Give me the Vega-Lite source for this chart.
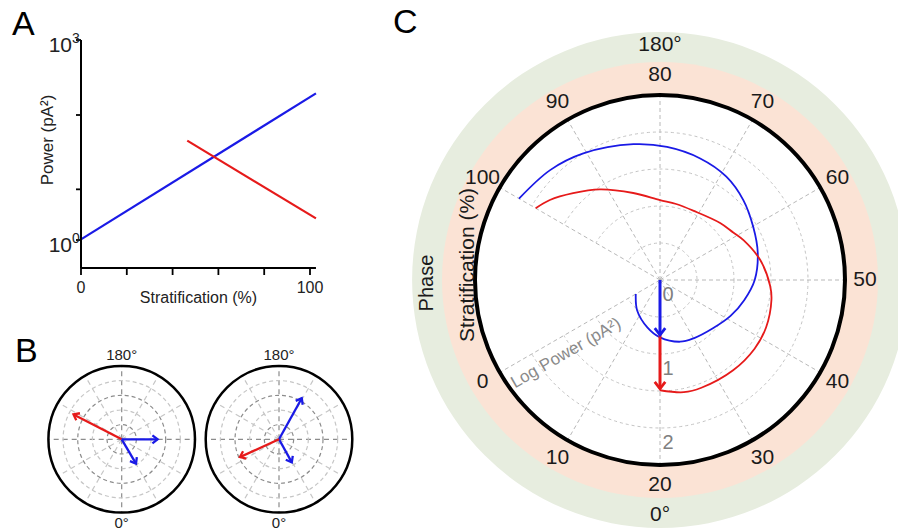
{
"$schema":"https://vega.github.io/schema/vega-lite/v6.json",
"width":898,"height":531,
"autosize":{"type":"fit","contains":"padding"},
"padding":0,
"background":"white",
"config":{"font":"Liberation Sans","view":{"stroke":null},"axis":{"grid":false}},
"datasets":{
 "powerA":[{"series":"blue","strat":0,"power":1.02},{"series":"blue","strat":102.6,"power":158.5},{"series":"red","strat":46.4,"power":30.9},{"series":"red","strat":102.6,"power":2.11}],
 "axisA":[{"xa":0,"xb":0,"pa":0.38,"pb":1000},{"xa":0,"xb":102.6,"pa":0.38,"pb":0.38}],
 "xTicksA":[{"s":0},{"s":20},{"s":40},{"s":60},{"s":80},{"s":100}],
 "yTicksA":[{"p":1,"exp":"0"},{"p":5.754,"exp":""},{"p":74.99,"exp":""},{"p":1000,"exp":"3"}],
 "spokesB":[{"angle":0,"tone":"dark"},{"angle":30,"tone":"light"},{"angle":60,"tone":"light"},{"angle":90,"tone":"dark"},{"angle":120,"tone":"light"},{"angle":150,"tone":"light"},{"angle":180,"tone":"dark"},{"angle":210,"tone":"light"},{"angle":240,"tone":"light"},{"angle":270,"tone":"dark"},{"angle":300,"tone":"light"},{"angle":330,"tone":"light"}],
 "circlesB":[{"r":0.2,"tone":"dark"},{"r":0.4,"tone":"light"},{"r":0.6,"tone":"dark"},{"r":0.8,"tone":"light"}],
 "arrows":[
  {"panel":"B1","series":"red","phase":242.7,"r0":0,"r1":0.74},
  {"panel":"B1","series":"blue","phase":90,"r0":0,"r1":0.49},
  {"panel":"B1","series":"blue","phase":30.5,"r0":0,"r1":0.385},
  {"panel":"B2","series":"blue","phase":151,"r0":0,"r1":0.64},
  {"panel":"B2","series":"blue","phase":29,"r0":0,"r1":0.36},
  {"panel":"B2","series":"red","phase":294.5,"r0":0,"r1":0.585},
  {"panel":"C","series":"blue","phase":0,"r0":0,"r1":0.743},
  {"panel":"C","series":"red","phase":0,"r0":0.743,"r1":1.47}
 ],
 "stratTicks":[{"s":0},{"s":10},{"s":20},{"s":30},{"s":40},{"s":50},{"s":60},{"s":70},{"s":80},{"s":90},{"s":100}],
 "circlesC":[{"r":0.5},{"r":1},{"r":1.5},{"r":2}],
 "radialC":[{"v":0},{"v":1},{"v":2}],
 "spiralC":[
  {"series":"blue","s":0,"lp":0.378},{"series":"blue","s":7.7,"lp":0.514},{"series":"blue","s":15,"lp":0.662},{"series":"blue","s":20,"lp":0.775},{"series":"blue","s":26,"lp":0.877},{"series":"blue","s":30,"lp":0.91},{"series":"blue","s":36,"lp":0.97},{"series":"blue","s":41,"lp":1.07},{"series":"blue","s":45.5,"lp":1.17},{"series":"blue","s":50,"lp":1.28},{"series":"blue","s":55.1,"lp":1.37},{"series":"blue","s":59.9,"lp":1.45},{"series":"blue","s":64.6,"lp":1.56},{"series":"blue","s":69.1,"lp":1.66},{"series":"blue","s":73.9,"lp":1.73},{"series":"blue","s":79,"lp":1.8},{"series":"blue","s":83.7,"lp":1.87},{"series":"blue","s":90.4,"lp":2.0},{"series":"blue","s":95,"lp":2.1},{"series":"blue","s":100,"lp":2.2},
  {"series":"red","s":20,"lp":1.49},{"series":"red","s":24,"lp":1.55},{"series":"red","s":27,"lp":1.56},{"series":"red","s":33,"lp":1.57},{"series":"red","s":38,"lp":1.58},{"series":"red","s":42,"lp":1.57},{"series":"red","s":46.6,"lp":1.53},{"series":"red","s":49,"lp":1.49},{"series":"red","s":53.8,"lp":1.38},{"series":"red","s":58.5,"lp":1.25},{"series":"red","s":61,"lp":1.18},{"series":"red","s":64.5,"lp":1.12},{"series":"red","s":71.3,"lp":1.04},{"series":"red","s":76,"lp":1.05},{"series":"red","s":80,"lp":1.08},{"series":"red","s":85.7,"lp":1.23},{"series":"red","s":91.2,"lp":1.47},{"series":"red","s":95,"lp":1.66},{"series":"red","s":98,"lp":1.84},{"series":"red","s":100,"lp":1.94}
 ]
},
"resolve":{"scale":{"x":"independent","y":"independent","color":"independent","stroke":"independent","size":"independent","angle":"independent"}},
"layer":[
 {"layer":[
  {"data":{"name":"powerA"},"mark":{"type":"line","strokeWidth":2.2},
   "encoding":{
    "x":{"field":"strat","type":"quantitative","scale":{"domain":[-35.37,356.77],"nice":false,"zero":false},"axis":null},
    "y":{"field":"power","type":"quantitative","scale":{"type":"log","domain":[0.00004315,3981.07],"nice":false},"axis":null},
    "color":{"field":"series","type":"nominal","scale":{"domain":["blue","red"],"range":["#1a1ae6","#e61a1a"]},"legend":null}}},
  {"data":{"name":"axisA"},"mark":{"type":"rule","color":"black","strokeWidth":2},
   "encoding":{"x":{"field":"xa","type":"quantitative","scale":{"domain":[-35.37,356.77],"nice":false,"zero":false},"axis":null},"x2":{"field":"xb"},"y":{"field":"pa","type":"quantitative","scale":{"type":"log","domain":[0.00004315,3981.07],"nice":false},"axis":null},"y2":{"field":"pb"}}},
  {"data":{"name":"xTicksA"},"mark":{"type":"point","shape":"M0,0L0,1","filled":false,"size":196,"stroke":"black","strokeWidth":1.8,"opacity":1},
   "encoding":{"x":{"field":"s","type":"quantitative","scale":{"domain":[-35.37,356.77],"nice":false,"zero":false},"axis":null},"y":{"datum":0.38,"type":"quantitative","scale":{"type":"log","domain":[0.00004315,3981.07],"nice":false},"axis":null}}},
  {"data":{"name":"xTicksA"},"transform":[{"filter":"datum.s == 0 || datum.s == 100"}],"mark":{"type":"text","fontSize":16,"color":"#222","baseline":"middle","dy":20},
   "encoding":{"x":{"field":"s","type":"quantitative","scale":{"domain":[-35.37,356.77],"nice":false,"zero":false},"axis":null},"y":{"datum":0.38,"type":"quantitative","scale":{"type":"log","domain":[0.00004315,3981.07],"nice":false},"axis":null},"text":{"field":"s","type":"quantitative"}}},
  {"data":{"name":"yTicksA"},"mark":{"type":"point","shape":"M0,0L-1,0","filled":false,"size":100,"stroke":"black","strokeWidth":1.8,"opacity":1},
   "encoding":{"x":{"datum":0,"type":"quantitative","scale":{"domain":[-35.37,356.77],"nice":false,"zero":false},"axis":null},"y":{"field":"p","type":"quantitative","scale":{"type":"log","domain":[0.00004315,3981.07],"nice":false},"axis":null}}},
  {"data":{"name":"yTicksA"},"transform":[{"filter":"datum.exp != ''"}],"mark":{"type":"text","text":"10","fontSize":21,"color":"#222","baseline":"middle","align":"right","dx":-9,"dy":6},
   "encoding":{"x":{"datum":0,"type":"quantitative","scale":{"domain":[-35.37,356.77],"nice":false,"zero":false},"axis":null},"y":{"field":"p","type":"quantitative","scale":{"type":"log","domain":[0.00004315,3981.07],"nice":false},"axis":null}}},
  {"data":{"name":"yTicksA"},"transform":[{"filter":"datum.exp != ''"}],"mark":{"type":"text","fontSize":14,"color":"#222","baseline":"middle","align":"left","dx":-9,"dy":-1},
   "encoding":{"x":{"datum":0,"type":"quantitative","scale":{"domain":[-35.37,356.77],"nice":false,"zero":false},"axis":null},"y":{"field":"p","type":"quantitative","scale":{"type":"log","domain":[0.00004315,3981.07],"nice":false},"axis":null},"text":{"field":"exp","type":"nominal"}}},
  {"data":{"values":[{}]},"mark":{"type":"text","text":"Stratification (%)","fontSize":16,"color":"#222","baseline":"middle"},
   "encoding":{"x":{"datum":51.3,"type":"quantitative","scale":{"domain":[-35.37,356.77],"nice":false,"zero":false},"axis":null},"y":{"datum":0.135,"type":"quantitative","scale":{"type":"log","domain":[0.00004315,3981.07],"nice":false},"axis":null}}},
  {"data":{"values":[{}]},"mark":{"type":"text","text":"Power (pA²)","fontSize":17,"color":"#222","baseline":"middle","angle":270},
   "encoding":{"x":{"datum":-14.41,"type":"quantitative","scale":{"domain":[-35.37,356.77],"nice":false,"zero":false},"axis":null},"y":{"datum":31.6,"type":"quantitative","scale":{"type":"log","domain":[0.00004315,3981.07],"nice":false},"axis":null}}},
  {"data":{"values":[{}]},"mark":{"type":"text","text":"A","fontSize":34,"align":"left","baseline":"alphabetic","color":"black"},
   "encoding":{"x":{"datum":-30.13,"type":"quantitative","scale":{"domain":[-35.37,356.77],"nice":false,"zero":false},"axis":null},"y":{"datum":1189,"type":"quantitative","scale":{"type":"log","domain":[0.00004315,3981.07],"nice":false},"axis":null}}}
 ]},
 {"layer":[
  {"data":{"name":"spokesB"},"transform":[{"calculate":"0","as":"xs"},{"calculate":"0","as":"ys"},{"calculate":"sin(datum.angle*PI/180)","as":"xe"},{"calculate":"-cos(datum.angle*PI/180)","as":"ye"}],
   "mark":{"type":"rule","strokeDash":[5,4],"strokeWidth":1.2},
   "encoding":{"x":{"field":"xs","type":"quantitative","scale":{"domain":[-1.6603,10.5907],"nice":false,"zero":false},"axis":null},"y":{"field":"ys","type":"quantitative","scale":{"domain":[-1.251,5.9932],"nice":false,"zero":false},"axis":null},"x2":{"field":"xe"},"y2":{"field":"ye"},
    "stroke":{"field":"tone","type":"nominal","scale":{"domain":["dark","light"],"range":["#8c8c8c","#c6c6c6"]},"legend":null}}},
  {"data":{"name":"circlesB"},"mark":{"type":"point","shape":"circle","filled":false,"opacity":1,"strokeDash":[4,3],"strokeWidth":1.2},
   "encoding":{"x":{"datum":0,"type":"quantitative","scale":{"domain":[-1.6603,10.5907],"nice":false,"zero":false},"axis":null},"y":{"datum":0,"type":"quantitative","scale":{"domain":[-1.251,5.9932],"nice":false,"zero":false},"axis":null},
    "size":{"field":"r","type":"quantitative","scale":{"type":"pow","exponent":2,"domain":[0,1],"range":[0,21491.6],"zero":true},"legend":null},
    "stroke":{"field":"tone","type":"nominal","scale":{"domain":["dark","light"],"range":["#8c8c8c","#c6c6c6"]},"legend":null}}},
  {"data":{"values":[{}]},"mark":{"type":"point","shape":"circle","filled":false,"opacity":1,"stroke":"black","strokeWidth":2.5},
   "encoding":{"x":{"datum":0,"type":"quantitative","scale":{"domain":[-1.6603,10.5907],"nice":false,"zero":false},"axis":null},"y":{"datum":0,"type":"quantitative","scale":{"domain":[-1.251,5.9932],"nice":false,"zero":false},"axis":null},
    "size":{"datum":1,"type":"quantitative","scale":{"type":"pow","exponent":2,"domain":[0,1],"range":[0,21491.6],"zero":true},"legend":null}}},
  {"data":{"name":"arrows"},
   "transform":[{"filter":"datum.panel == 'B1'"},{"calculate":"datum.r0*sin(datum.phase*PI/180)","as":"xs"},{"calculate":"-datum.r0*cos(datum.phase*PI/180)","as":"ys"},{"calculate":"datum.r1*sin(datum.phase*PI/180)","as":"xe"},{"calculate":"-datum.r1*cos(datum.phase*PI/180)","as":"ye"},{"calculate":"(360-datum.phase)%360","as":"rot"}],
   "layer":[
    {"mark":{"type":"rule","strokeWidth":2.3},
     "encoding":{"x":{"field":"xs","type":"quantitative","scale":{"domain":[-1.6603,10.5907],"nice":false,"zero":false},"axis":null},"y":{"field":"ys","type":"quantitative","scale":{"domain":[-1.251,5.9932],"nice":false,"zero":false},"axis":null},"x2":{"field":"xe"},"y2":{"field":"ye"},
      "color":{"field":"series","type":"nominal","scale":{"domain":["blue","red"],"range":["#1a1ae6","#e61a1a"]},"legend":null}}},
    {"mark":{"type":"point","shape":"M-1,-1.3L0,0L1,-1.3","filled":false,"size":64,"strokeWidth":2.3,"opacity":1},
     "encoding":{"x":{"field":"xe","type":"quantitative","scale":{"domain":[-1.6603,10.5907],"nice":false,"zero":false},"axis":null},"y":{"field":"ye","type":"quantitative","scale":{"domain":[-1.251,5.9932],"nice":false,"zero":false},"axis":null},
      "angle":{"field":"rot","type":"quantitative","scale":{"domain":[0,360],"range":[0,360]},"legend":null},
      "color":{"field":"series","type":"nominal","scale":{"domain":["blue","red"],"range":["#1a1ae6","#e61a1a"]},"legend":null}}}
   ]},
  {"data":{"values":[{}]},"mark":{"type":"text","text":"180°","fontSize":15,"color":"#222","baseline":"middle"},
   "encoding":{"x":{"datum":0,"type":"quantitative","scale":{"domain":[-1.6603,10.5907],"nice":false,"zero":false},"axis":null},"y":{"datum":1.15,"type":"quantitative","scale":{"domain":[-1.251,5.9932],"nice":false,"zero":false},"axis":null}}},
  {"data":{"values":[{}]},"mark":{"type":"text","text":"0°","fontSize":15,"color":"#222","baseline":"middle"},
   "encoding":{"x":{"datum":0,"type":"quantitative","scale":{"domain":[-1.6603,10.5907],"nice":false,"zero":false},"axis":null},"y":{"datum":-1.14,"type":"quantitative","scale":{"domain":[-1.251,5.9932],"nice":false,"zero":false},"axis":null}}},
  {"data":{"values":[{}]},"mark":{"type":"text","text":"B","fontSize":34,"align":"left","baseline":"alphabetic","color":"black"},
   "encoding":{"x":{"datum":-1.456,"type":"quantitative","scale":{"domain":[-1.6603,10.5907],"nice":false,"zero":false},"axis":null},"y":{"datum":1.055,"type":"quantitative","scale":{"domain":[-1.251,5.9932],"nice":false,"zero":false},"axis":null}}}
 ]},
 {"layer":[
  {"data":{"name":"spokesB"},"transform":[{"calculate":"0","as":"xs"},{"calculate":"0","as":"ys"},{"calculate":"sin(datum.angle*PI/180)","as":"xe"},{"calculate":"-cos(datum.angle*PI/180)","as":"ye"}],
   "mark":{"type":"rule","strokeDash":[5,4],"strokeWidth":1.2},
   "encoding":{"x":{"field":"xs","type":"quantitative","scale":{"domain":[-3.8063,8.4447],"nice":false,"zero":false},"axis":null},"y":{"field":"ys","type":"quantitative","scale":{"domain":[-1.251,5.9932],"nice":false,"zero":false},"axis":null},"x2":{"field":"xe"},"y2":{"field":"ye"},
    "stroke":{"field":"tone","type":"nominal","scale":{"domain":["dark","light"],"range":["#8c8c8c","#c6c6c6"]},"legend":null}}},
  {"data":{"name":"circlesB"},"mark":{"type":"point","shape":"circle","filled":false,"opacity":1,"strokeDash":[4,3],"strokeWidth":1.2},
   "encoding":{"x":{"datum":0,"type":"quantitative","scale":{"domain":[-3.8063,8.4447],"nice":false,"zero":false},"axis":null},"y":{"datum":0,"type":"quantitative","scale":{"domain":[-1.251,5.9932],"nice":false,"zero":false},"axis":null},
    "size":{"field":"r","type":"quantitative","scale":{"type":"pow","exponent":2,"domain":[0,1],"range":[0,21491.6],"zero":true},"legend":null},
    "stroke":{"field":"tone","type":"nominal","scale":{"domain":["dark","light"],"range":["#8c8c8c","#c6c6c6"]},"legend":null}}},
  {"data":{"values":[{}]},"mark":{"type":"point","shape":"circle","filled":false,"opacity":1,"stroke":"black","strokeWidth":2.5},
   "encoding":{"x":{"datum":0,"type":"quantitative","scale":{"domain":[-3.8063,8.4447],"nice":false,"zero":false},"axis":null},"y":{"datum":0,"type":"quantitative","scale":{"domain":[-1.251,5.9932],"nice":false,"zero":false},"axis":null},
    "size":{"datum":1,"type":"quantitative","scale":{"type":"pow","exponent":2,"domain":[0,1],"range":[0,21491.6],"zero":true},"legend":null}}},
  {"data":{"name":"arrows"},
   "transform":[{"filter":"datum.panel == 'B2'"},{"calculate":"datum.r0*sin(datum.phase*PI/180)","as":"xs"},{"calculate":"-datum.r0*cos(datum.phase*PI/180)","as":"ys"},{"calculate":"datum.r1*sin(datum.phase*PI/180)","as":"xe"},{"calculate":"-datum.r1*cos(datum.phase*PI/180)","as":"ye"},{"calculate":"(360-datum.phase)%360","as":"rot"}],
   "layer":[
    {"mark":{"type":"rule","strokeWidth":2.3},
     "encoding":{"x":{"field":"xs","type":"quantitative","scale":{"domain":[-3.8063,8.4447],"nice":false,"zero":false},"axis":null},"y":{"field":"ys","type":"quantitative","scale":{"domain":[-1.251,5.9932],"nice":false,"zero":false},"axis":null},"x2":{"field":"xe"},"y2":{"field":"ye"},
      "color":{"field":"series","type":"nominal","scale":{"domain":["blue","red"],"range":["#1a1ae6","#e61a1a"]},"legend":null}}},
    {"mark":{"type":"point","shape":"M-1,-1.3L0,0L1,-1.3","filled":false,"size":64,"strokeWidth":2.3,"opacity":1},
     "encoding":{"x":{"field":"xe","type":"quantitative","scale":{"domain":[-3.8063,8.4447],"nice":false,"zero":false},"axis":null},"y":{"field":"ye","type":"quantitative","scale":{"domain":[-1.251,5.9932],"nice":false,"zero":false},"axis":null},
      "angle":{"field":"rot","type":"quantitative","scale":{"domain":[0,360],"range":[0,360]},"legend":null},
      "color":{"field":"series","type":"nominal","scale":{"domain":["blue","red"],"range":["#1a1ae6","#e61a1a"]},"legend":null}}}
   ]},
  {"data":{"values":[{}]},"mark":{"type":"text","text":"180°","fontSize":15,"color":"#222","baseline":"middle"},
   "encoding":{"x":{"datum":0,"type":"quantitative","scale":{"domain":[-3.8063,8.4447],"nice":false,"zero":false},"axis":null},"y":{"datum":1.15,"type":"quantitative","scale":{"domain":[-1.251,5.9932],"nice":false,"zero":false},"axis":null}}},
  {"data":{"values":[{}]},"mark":{"type":"text","text":"0°","fontSize":15,"color":"#222","baseline":"middle"},
   "encoding":{"x":{"datum":0,"type":"quantitative","scale":{"domain":[-3.8063,8.4447],"nice":false,"zero":false},"axis":null},"y":{"datum":-1.14,"type":"quantitative","scale":{"domain":[-1.251,5.9932],"nice":false,"zero":false},"axis":null}}}
 ]},
 {"layer":[
  {"data":{"values":[{}]},"mark":{"type":"point","shape":"circle","filled":true,"fill":"#e7eddf","opacity":1,"strokeWidth":0,"clip":true},
   "encoding":{"x":{"datum":0,"type":"quantitative","scale":{"domain":[-8.9189,3.2162],"nice":false,"zero":false},"axis":null},"y":{"datum":0,"type":"quantitative","scale":{"domain":[-3.3919,3.7838],"nice":false,"zero":false},"axis":null},
    "size":{"datum":3.35,"type":"quantitative","scale":{"type":"pow","exponent":2,"domain":[0,1],"range":[0,21904],"zero":true},"legend":null}}},
  {"data":{"values":[{}]},"mark":{"type":"point","shape":"circle","filled":true,"fill":"#fbe3d5","opacity":1,"strokeWidth":0,"clip":true},
   "encoding":{"x":{"datum":0,"type":"quantitative","scale":{"domain":[-8.9189,3.2162],"nice":false,"zero":false},"axis":null},"y":{"datum":0,"type":"quantitative","scale":{"domain":[-3.3919,3.7838],"nice":false,"zero":false},"axis":null},
    "size":{"datum":2.946,"type":"quantitative","scale":{"type":"pow","exponent":2,"domain":[0,1],"range":[0,21904],"zero":true},"legend":null}}},
  {"data":{"values":[{}]},"mark":{"type":"point","shape":"circle","filled":true,"fill":"white","opacity":1,"strokeWidth":0},
   "encoding":{"x":{"datum":0,"type":"quantitative","scale":{"domain":[-8.9189,3.2162],"nice":false,"zero":false},"axis":null},"y":{"datum":0,"type":"quantitative","scale":{"domain":[-3.3919,3.7838],"nice":false,"zero":false},"axis":null},
    "size":{"datum":2.5,"type":"quantitative","scale":{"type":"pow","exponent":2,"domain":[0,1],"range":[0,21904],"zero":true},"legend":null}}},
  {"data":{"name":"circlesC"},"mark":{"type":"point","shape":"circle","filled":false,"opacity":1,"stroke":"#c4c4c4","strokeDash":[3,3],"strokeWidth":1},
   "encoding":{"x":{"datum":0,"type":"quantitative","scale":{"domain":[-8.9189,3.2162],"nice":false,"zero":false},"axis":null},"y":{"datum":0,"type":"quantitative","scale":{"domain":[-3.3919,3.7838],"nice":false,"zero":false},"axis":null},
    "size":{"field":"r","type":"quantitative","scale":{"type":"pow","exponent":2,"domain":[0,1],"range":[0,21904],"zero":true},"legend":null}}},
  {"data":{"values":[{}]},"mark":{"type":"point","shape":"M0,0L-0.866,-0.5A1,1,0,0,0,-0.866,0.5Z","filled":true,"fill":"white","opacity":1,"strokeWidth":0},
   "encoding":{"x":{"datum":0,"type":"quantitative","scale":{"domain":[-8.9189,3.2162],"nice":false,"zero":false},"axis":null},"y":{"datum":0,"type":"quantitative","scale":{"domain":[-3.3919,3.7838],"nice":false,"zero":false},"axis":null},
    "size":{"datum":2.47,"type":"quantitative","scale":{"type":"pow","exponent":2,"domain":[0,1],"range":[0,21904],"zero":true},"legend":null}}},
  {"data":{"name":"stratTicks"},"transform":[{"calculate":"(3*datum.s-60)*PI/180","as":"ph"},{"calculate":"0","as":"xs"},{"calculate":"0","as":"ys"},{"calculate":"2.5*sin(datum.ph)","as":"xe"},{"calculate":"-2.5*cos(datum.ph)","as":"ye"}],
   "mark":{"type":"rule","stroke":"#b8b8b8","strokeDash":[4,3],"strokeWidth":1},
   "encoding":{"x":{"field":"xs","type":"quantitative","scale":{"domain":[-8.9189,3.2162],"nice":false,"zero":false},"axis":null},"y":{"field":"ys","type":"quantitative","scale":{"domain":[-3.3919,3.7838],"nice":false,"zero":false},"axis":null},"x2":{"field":"xe"},"y2":{"field":"ye"}}},
  {"data":{"values":[{}]},"mark":{"type":"point","shape":"circle","filled":false,"opacity":1,"stroke":"black","strokeWidth":4},
   "encoding":{"x":{"datum":0,"type":"quantitative","scale":{"domain":[-8.9189,3.2162],"nice":false,"zero":false},"axis":null},"y":{"datum":0,"type":"quantitative","scale":{"domain":[-3.3919,3.7838],"nice":false,"zero":false},"axis":null},
    "size":{"datum":2.5,"type":"quantitative","scale":{"type":"pow","exponent":2,"domain":[0,1],"range":[0,21904],"zero":true},"legend":null}}},
  {"data":{"name":"spiralC"},"transform":[{"calculate":"(3*datum.s-60)*PI/180","as":"ph"},{"calculate":"datum.lp*sin(datum.ph)","as":"x"},{"calculate":"-datum.lp*cos(datum.ph)","as":"y"}],
   "mark":{"type":"line","strokeWidth":1.8,"interpolate":"catmull-rom"},
   "encoding":{"x":{"field":"x","type":"quantitative","scale":{"domain":[-8.9189,3.2162],"nice":false,"zero":false},"axis":null},"y":{"field":"y","type":"quantitative","scale":{"domain":[-3.3919,3.7838],"nice":false,"zero":false},"axis":null},
    "order":{"field":"s","type":"quantitative"},
    "color":{"field":"series","type":"nominal","scale":{"domain":["blue","red"],"range":["#1a1ae6","#e61a1a"]},"legend":null}}},
  {"data":{"name":"arrows"},
   "transform":[{"filter":"datum.panel == 'C'"},{"calculate":"datum.r0*sin(datum.phase*PI/180)","as":"xs"},{"calculate":"-datum.r0*cos(datum.phase*PI/180)","as":"ys"},{"calculate":"datum.r1*sin(datum.phase*PI/180)","as":"xe"},{"calculate":"-datum.r1*cos(datum.phase*PI/180)","as":"ye"},{"calculate":"(360-datum.phase)%360","as":"rot"}],
   "layer":[
    {"mark":{"type":"rule","strokeWidth":3},
     "encoding":{"x":{"field":"xs","type":"quantitative","scale":{"domain":[-8.9189,3.2162],"nice":false,"zero":false},"axis":null},"y":{"field":"ys","type":"quantitative","scale":{"domain":[-3.3919,3.7838],"nice":false,"zero":false},"axis":null},"x2":{"field":"xe"},"y2":{"field":"ye"},
      "color":{"field":"series","type":"nominal","scale":{"domain":["blue","red"],"range":["#1a1ae6","#e61a1a"]},"legend":null}}},
    {"mark":{"type":"point","shape":"M-1,-1.3L0,0L1,-1.3","filled":false,"size":110,"strokeWidth":2.8,"opacity":1},
     "encoding":{"x":{"field":"xe","type":"quantitative","scale":{"domain":[-8.9189,3.2162],"nice":false,"zero":false},"axis":null},"y":{"field":"ye","type":"quantitative","scale":{"domain":[-3.3919,3.7838],"nice":false,"zero":false},"axis":null},
      "angle":{"field":"rot","type":"quantitative","scale":{"domain":[0,360],"range":[0,360]},"legend":null},
      "color":{"field":"series","type":"nominal","scale":{"domain":["blue","red"],"range":["#1a1ae6","#e61a1a"]},"legend":null}}}
   ]},
  {"data":{"name":"stratTicks"},"transform":[{"calculate":"(3*datum.s-60)*PI/180","as":"ph"},{"calculate":"2.77*sin(datum.ph)","as":"xl"},{"calculate":"-2.77*cos(datum.ph)","as":"yl"}],
   "mark":{"type":"text","fontSize":21,"color":"#1a1a1a","baseline":"middle","align":"center"},
   "encoding":{"x":{"field":"xl","type":"quantitative","scale":{"domain":[-8.9189,3.2162],"nice":false,"zero":false},"axis":null},"y":{"field":"yl","type":"quantitative","scale":{"domain":[-3.3919,3.7838],"nice":false,"zero":false},"axis":null},
    "text":{"field":"s","type":"quantitative"}}},
  {"data":{"name":"radialC"},"transform":[{"calculate":"0","as":"xv"},{"calculate":"-datum.v","as":"yv"}],
   "mark":{"type":"text","fontSize":20,"color":"#808080","baseline":"middle","align":"center","dx":8,"dy":15},
   "encoding":{"x":{"field":"xv","type":"quantitative","scale":{"domain":[-8.9189,3.2162],"nice":false,"zero":false},"axis":null},"y":{"field":"yv","type":"quantitative","scale":{"domain":[-3.3919,3.7838],"nice":false,"zero":false},"axis":null},
    "text":{"field":"v","type":"quantitative"}}},
  {"data":{"values":[{}]},"mark":{"type":"text","text":"180°","fontSize":21,"color":"#1a1a1a","baseline":"middle"},
   "encoding":{"x":{"datum":0,"type":"quantitative","scale":{"domain":[-8.9189,3.2162],"nice":false,"zero":false},"axis":null},"y":{"datum":3.176,"type":"quantitative","scale":{"domain":[-3.3919,3.7838],"nice":false,"zero":false},"axis":null}}},
  {"data":{"values":[{}]},"mark":{"type":"text","text":"0°","fontSize":21,"color":"#1a1a1a","baseline":"middle"},
   "encoding":{"x":{"datum":0,"type":"quantitative","scale":{"domain":[-8.9189,3.2162],"nice":false,"zero":false},"axis":null},"y":{"datum":-3.176,"type":"quantitative","scale":{"domain":[-3.3919,3.7838],"nice":false,"zero":false},"axis":null}}},
  {"data":{"values":[{}]},"mark":{"type":"text","text":"Phase","fontSize":20,"color":"#1a1a1a","baseline":"middle","angle":270},
   "encoding":{"x":{"datum":-3.149,"type":"quantitative","scale":{"domain":[-8.9189,3.2162],"nice":false,"zero":false},"axis":null},"y":{"datum":-0.041,"type":"quantitative","scale":{"domain":[-3.3919,3.7838],"nice":false,"zero":false},"axis":null}}},
  {"data":{"values":[{}]},"mark":{"type":"text","text":"Stratification (%)","fontSize":21,"color":"#1a1a1a","baseline":"middle","angle":270},
   "encoding":{"x":{"datum":-2.595,"type":"quantitative","scale":{"domain":[-8.9189,3.2162],"nice":false,"zero":false},"axis":null},"y":{"datum":0.203,"type":"quantitative","scale":{"domain":[-3.3919,3.7838],"nice":false,"zero":false},"axis":null}}},
  {"data":{"values":[{}]},"mark":{"type":"text","text":"Log Power (pA²)","fontSize":17,"color":"#8a8a8a","baseline":"middle","angle":330},
   "encoding":{"x":{"datum":-1.27,"type":"quantitative","scale":{"domain":[-8.9189,3.2162],"nice":false,"zero":false},"axis":null},"y":{"datum":-0.99,"type":"quantitative","scale":{"domain":[-3.3919,3.7838],"nice":false,"zero":false},"axis":null}}},
  {"data":{"values":[{}]},"mark":{"type":"text","text":"C","fontSize":34,"align":"left","baseline":"alphabetic","color":"black"},
   "encoding":{"x":{"datum":-3.608,"type":"quantitative","scale":{"domain":[-8.9189,3.2162],"nice":false,"zero":false},"axis":null},"y":{"datum":3.338,"type":"quantitative","scale":{"domain":[-3.3919,3.7838],"nice":false,"zero":false},"axis":null}}}
 ]}
]
}
